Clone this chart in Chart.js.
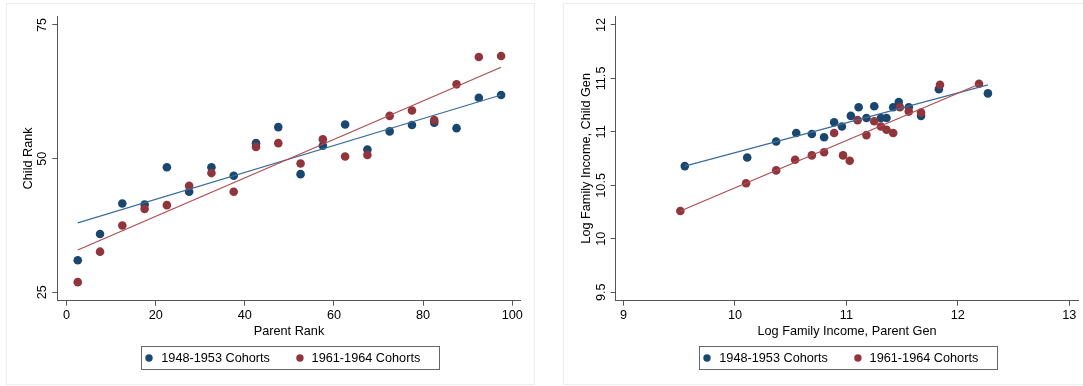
<!DOCTYPE html>
<html>
<head>
<meta charset="utf-8">
<script src="https://cdn.jsdelivr.net/npm/chart.js@4.4.1/dist/chart.umd.min.js"></script>
<style>
  html, body { margin: 0; padding: 0; background: #fff; }
  #wrap { position: relative; width: 1083px; height: 386px; }
  .frame { position: absolute; border: 1px solid #e9eef1; box-sizing: border-box; }
  canvas { position: absolute; top: 0; }
</style>
</head>
<body>
<div id="wrap">
  <div class="frame" style="left:6px;top:3px;width:529px;height:382px"></div>
  <div class="frame" style="left:563px;top:3px;width:521px;height:382px"></div>
  <canvas id="rank" width="540" height="386" style="left:0"></canvas>
  <canvas id="income" width="543" height="386" style="left:540px"></canvas>
</div>
<script>
const FONT = "'Liberation Sans', Arial, Helvetica, sans-serif";
const BLUE = '#1a476f';
const RED = '#90353b';
const BLUE_LINE = '#3b6c9a';
const RED_LINE = '#b04a52';
const AXIS = '#555';

const seriesNames = ['1948-1953 Cohorts', '1961-1964 Cohorts'];

// left panel: rank-rank
const parentRank = [2.5, 7.5, 12.5, 17.5, 22.5, 27.5, 32.5, 37.5, 42.5, 47.5,
                    52.5, 57.5, 62.5, 67.5, 72.5, 77.5, 82.5, 87.5, 92.5, 97.5];
const childRankOld = [31.0, 35.9, 41.6, 41.4, 48.4, 43.8, 48.4, 46.8, 52.9, 55.9,
                      47.1, 52.4, 56.4, 51.7, 55.1, 56.3, 56.7, 55.7, 61.4, 61.9];
const childRankNew = [26.9, 32.6, 37.5, 40.6, 41.3, 44.9, 47.3, 43.8, 52.2, 52.9,
                      49.1, 53.6, 50.4, 50.7, 58.0, 59.0, 57.2, 63.9, 69.0, 69.2];
// fitted values at the first and last parent rank
const rankFitX = [2.5, 97.5];
const rankFitOld = [38.0, 61.9];
const rankFitNew = [32.9, 67.1];
const rankXTicks = [0, 20, 40, 60, 80, 100];
const rankYTicks = [25, 50, 75];

// right panel: log family income
const parentIncOld = [9.55, 10.11, 10.37, 10.55, 10.69, 10.80, 10.89, 10.96, 11.04, 11.11,
                      11.18, 11.25, 11.31, 11.36, 11.42, 11.47, 11.56, 11.67, 11.83, 12.27];
const childIncOld = [10.68, 10.76, 10.91, 10.99, 10.98, 10.95, 11.09, 11.05, 11.15, 11.23,
                     11.13, 11.24, 11.13, 11.13, 11.23, 11.28, 11.23, 11.15, 11.40, 11.36];
const parentIncNew = [9.51, 10.10, 10.37, 10.54, 10.69, 10.80, 10.89, 10.97, 11.03, 11.10,
                      11.18, 11.25, 11.31, 11.36, 11.42, 11.48, 11.56, 11.67, 11.84, 12.19];
const childIncNew = [10.26, 10.52, 10.64, 10.74, 10.78, 10.81, 10.99, 10.78, 10.73, 11.11,
                     10.97, 11.10, 11.05, 11.02, 10.99, 11.23, 11.19, 11.18, 11.44, 11.45];
const incFitOldX = [9.55, 12.27];
const incFitOldY = [10.68, 11.44];
const incFitNewX = [9.51, 12.19];
const incFitNewY = [10.26, 11.445];
const incXTicks = [9, 10, 11, 12, 13];
const incYTicks = [9.5, 10, 10.5, 11, 11.5, 12];

const font = { family: FONT, size: 12.7 };

const pts = (xs, ys) => xs.map((x, i) => ({ x: x, y: ys[i] }));

// Stata-style boxed legend under the plot
const boxLegend = {
  id: 'boxLegend',
  afterDraw(chart) {
    const { ctx, chartArea } = chart;
    const colors = [BLUE, RED];
    ctx.save();
    ctx.font = `${font.size}px ${FONT}`;
    const w1 = ctx.measureText(seriesNames[0]).width;
    const w2 = ctx.measureText(seriesNames[1]).width;
    const width = 8 + 12.3 + w1 + 30 + 11.7 + w2 + 18.7;
    const left = Math.round((chartArea.left + chartArea.right) / 2 + 1 - width / 2);
    const top = 346.5, h = 23, cy = top + h / 2;
    ctx.strokeStyle = '#666';
    ctx.lineWidth = 1;
    ctx.strokeRect(left + 0.5, top, Math.round(width), h);
    const dots = [left + 8, left + 8 + 12.3 + w1 + 30];
    ctx.textBaseline = 'middle';
    ctx.textAlign = 'left';
    dots.forEach((dx, i) => {
      ctx.fillStyle = colors[i];
      ctx.beginPath();
      ctx.arc(dx, cy, 3.7, 0, Math.PI * 2);
      ctx.fill();
      ctx.fillStyle = '#000';
      ctx.fillText(seriesNames[i], dx + (i === 0 ? 12.3 : 11.7), cy + 0.5);
    });
    ctx.restore();
  }
};

function buildScales(opts) {
  return {
    x: {
      type: 'linear',
      min: opts.xRange[0],
      max: opts.xRange[1],
      afterBuildTicks: (s) => { s.ticks = opts.xTicks.map((v) => ({ value: v })); },
      afterFit: (s) => { s.height = 85.3; },
      grid: { drawOnChartArea: false, tickLength: 5, color: AXIS },
      border: { color: AXIS, width: 1 },
      ticks: { font, color: '#000', padding: 2.6, maxRotation: 0, autoSkip: false,
               callback: (v) => String(v) },
      title: { display: true, text: opts.xTitle, font, color: '#000',
               padding: { top: 0, bottom: 46.6 } }
    },
    y: {
      type: 'linear',
      min: opts.yRange[0],
      max: opts.yRange[1],
      afterBuildTicks: (s) => { s.ticks = opts.yTicks.map((v) => ({ value: v })); },
      afterFit: (s) => { s.width = opts.yWidth; },
      grid: { drawOnChartArea: false, tickLength: 5, color: AXIS },
      border: { color: AXIS, width: 1 },
      ticks: { font, color: '#000', padding: opts.yTickPad, minRotation: 90, maxRotation: 90,
               crossAlign: 'center', autoSkip: false, callback: (v) => String(v) },
      title: { display: true, text: opts.yTitle, font, color: '#000',
               padding: { top: opts.yTitlePad, bottom: 0 } }
    }
  };
}

function buildDatasets(oldPts, newPts, oldFit, newFit) {
  // first dataset is drawn on top, so fit lines come first
  return [
    { label: 'fit new', data: newFit, showLine: true, borderColor: RED_LINE,
      borderWidth: 1.2, pointRadius: 0, fill: false },
    { label: 'fit old', data: oldFit, showLine: true, borderColor: BLUE_LINE,
      borderWidth: 1.2, pointRadius: 0, fill: false },
    { label: seriesNames[1], data: newPts, backgroundColor: RED,
      pointRadius: 4.3, borderWidth: 0 },
    { label: seriesNames[0], data: oldPts, backgroundColor: BLUE,
      pointRadius: 4.3, borderWidth: 0 }
  ];
}

function buildChart(el, datasets, scales, rightPad) {
  return new Chart(el, {
    type: 'scatter',
    data: { datasets },
    options: {
      responsive: false,
      animation: false,
      layout: { padding: { left: 0, right: rightPad, top: 16, bottom: 0 } },
      scales,
      plugins: { legend: { display: false }, tooltip: { enabled: false } }
    },
    plugins: [boxLegend]
  });
}

buildChart(
  document.getElementById('rank'),
  buildDatasets(pts(parentRank, childRankOld), pts(parentRank, childRankNew),
                pts(rankFitX, rankFitOld), pts(rankFitX, rankFitNew)),
  buildScales({
    xRange: [-2.09, 101.9], yRange: [23.43, 76.68],
    xTicks: rankXTicks, yTicks: rankYTicks,
    xTitle: 'Parent Rank', yTitle: 'Child Rank',
    yWidth: 57.3, yTickPad: 2.7, yTitlePad: 20.4
  }),
  19.3
);

buildChart(
  document.getElementById('income'),
  buildDatasets(pts(parentIncOld, childIncOld), pts(parentIncNew, childIncNew),
                pts(incFitOldX, incFitOldY), pts(incFitNewX, incFitNewY)),
  buildScales({
    xRange: [8.93, 13.081], yRange: [9.421, 12.084],
    xTicks: incXTicks, yTicks: incYTicks,
    xTitle: 'Log Family Income, Parent Gen', yTitle: 'Log Family Income, Child Gen',
    yWidth: 75.7, yTickPad: -3.6, yTitlePad: 39
  }),
  4.7
);
</script>
</body>
</html>
